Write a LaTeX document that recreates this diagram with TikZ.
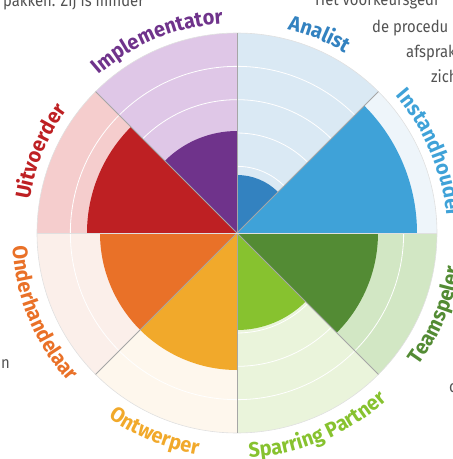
\documentclass[tikz,border=0pt]{standalone}
\usepackage{fontspec}
\setmainfont{Fira Sans}
\newfontfamily\rolfont[FakeStretch=0.95]{Fira Sans}
\newfontfamily\tekstfont[FakeStretch=0.9]{Fira Sans}
\usetikzlibrary{decorations.text}
\definecolor{analist}{HTML}{3382C0}
\definecolor{analistbg}{HTML}{DAE9F4}
\definecolor{instand}{HTML}{3FA2D8}
\definecolor{instandbg}{HTML}{EEF5FA}
\definecolor{teams}{HTML}{538B34}
\definecolor{teamsbg}{HTML}{D2E7C4}
\definecolor{sparring}{HTML}{87C22F}
\definecolor{sparringbg}{HTML}{EAF4DB}
\definecolor{ontwerper}{HTML}{F1A92B}
\definecolor{ontwerperbg}{HTML}{FEF7ED}
\definecolor{onderh}{HTML}{E97128}
\definecolor{onderhbg}{HTML}{FBEFEA}
\definecolor{uitvoer}{HTML}{BE2023}
\definecolor{uitvoerbg}{HTML}{F5CDCD}
\definecolor{implem}{HTML}{6F338B}
\definecolor{implembg}{HTML}{DFC7E7}
\tikzset{
  sep/.style={draw=black!35, line width=0.9pt},
  ring/.style={draw=white, line width=0.8pt},
  tekst/.style={font=\tekstfont\fontsize{16.5}{16.5}\selectfont, text=black!68, inner sep=0pt, anchor=base west}
}
\newcommand\rol[5]{\path[decorate,decoration={text along path,text align=center,text color=#4,
  text={|\rolfont\bfseries\fontsize{21}{21}\selectfont|#5}}] (#1:#3pt) arc[start angle=#1,end angle=#2,radius=#3pt];}
\begin{document}
\begin{tikzpicture}[x=1pt,y=1pt]
\useasboundingbox (-237,-226) rectangle (216,233);
\clip (-237,-226) rectangle (216,233);
% tekst van de pagina
\node[tekst] (t1) at (-234,227) {pakken. Zij is minder};
\node[tekst] (t2) at (78,228) {Het voorkeursgedr};
\node[tekst] (t3) at (135,201) {de procedu};
\node[tekst] (t4) at (169,176) {afsprak};
\node[tekst] (t5) at (194,151) {zich};
\node[tekst] (t6) at (-236,-135) {n};
\node[tekst] (t7) at (212,-159) {c};
% achtergrond
\foreach \a/\b in {45/analistbg,0/instandbg,-45/teamsbg,-90/sparringbg,-135/ontwerperbg,180/onderhbg,135/uitvoerbg,90/implembg}
  \fill[\b] (0,0) -- (\a:200pt) arc[start angle=\a,end angle=\a+45,radius=200pt] -- cycle;
\foreach \k in {1,...,5}
  \draw[ring] (0,0) circle[radius=\k*33.33pt];
% scores
\foreach \a/\r/\c in {45/58/analist,0/180/instand,-45/141/teams,-90/97/sparring,-135/137/ontwerper,180/137/onderh,135/150/uitvoer,90/102/implem}
  \fill[\c] (0,0) -- (\a:\r pt) arc[start angle=\a,end angle=\a+45,radius=\r pt] -- cycle;
\draw[black!12, line width=0.6pt] (0,0) circle[radius=200pt];
\foreach \a in {45,90,135,225,270,315}
  \draw[sep] (0,0) -- (\a:200pt);
\draw[sep, draw=black!12] (180:200pt) -- (0:200pt);
% rollen
\rol{180}{135}{210}{uitvoer}{Uitvoerder}
\rol{135}{90}{210}{implem}{Implementator}
\rol{90}{45}{210}{analist}{Analist}
\rol{45}{0}{210}{instand}{Instandhouder}
\rol{-45}{0}{225}{teams}{Teamspeler}
\rol{-90}{-45}{225}{sparring}{Sparring Partner}
\rol{-135}{-90}{225}{ontwerper}{Ontwerper}
\rol{180}{225}{225}{onderh}{Onderhandelaar}
\end{tikzpicture}
\end{document}
